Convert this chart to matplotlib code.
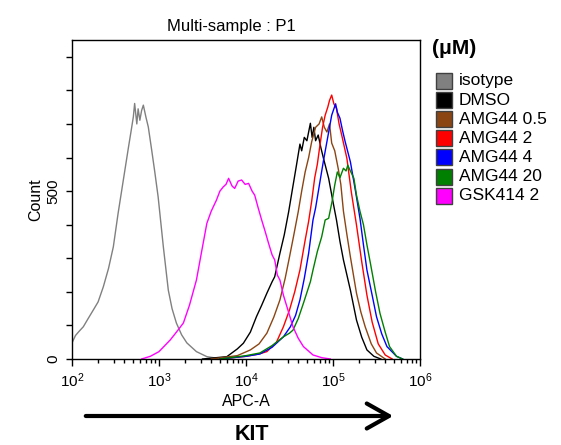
import numpy as np
import matplotlib
matplotlib.use('Agg')
import matplotlib.pyplot as plt
from matplotlib.patches import Rectangle, FancyArrowPatch
from matplotlib.ticker import FixedLocator, FixedFormatter, NullFormatter

plt.rcParams['font.family'] = ['Liberation Sans', 'DejaVu Sans']
plt.rcParams['mathtext.fontset'] = 'custom'
plt.rcParams['mathtext.rm'] = 'Liberation Sans'
plt.rcParams['mathtext.default'] = 'regular'

# histogram traces: log10(APC-A) and count
isotype_logx = [2.00, 2.04, 2.08, 2.13, 2.18, 2.245, 2.30, 2.36, 2.42, 2.475, 2.53, 2.59, 2.65, 2.68,
                2.705, 2.72, 2.745, 2.76, 2.78, 2.80, 2.82, 2.85, 2.877, 2.916, 2.95, 2.99, 3.05, 3.107,
                3.15, 3.20, 3.26, 3.32, 3.43, 3.55, 3.65, 3.75]
isotype_count = [48, 70, 82, 96, 118, 146, 170, 215, 270, 334, 434, 533, 632, 680,
                 721, 761, 700, 745, 711, 740, 756, 720, 691, 622, 560, 483, 334, 205,
                 150, 107, 72, 48, 22, 7, 3, 0]

dmso_logx = [3.50, 3.78, 3.90, 3.97, 4.05, 4.12, 4.18, 4.24, 4.30, 4.33, 4.39, 4.44, 4.49, 4.53,
             4.58, 4.62, 4.64, 4.67, 4.70, 4.74, 4.76, 4.78, 4.80, 4.83, 4.86, 4.89, 4.95, 5.00,
             5.04, 5.08, 5.12, 5.16, 5.20, 5.27, 5.33, 5.39, 5.47, 5.55]
dmso_count = [0, 7, 30, 47, 80, 126, 160, 196, 230, 245, 315, 370, 438, 500,
              577, 640, 620, 660, 650, 702, 660, 690, 650, 667, 630, 598, 538, 468,
              414, 350, 295, 250, 205, 116, 65, 27, 8, 0]

amg05_logx = [3.60, 3.90, 4.05, 4.15, 4.24, 4.32, 4.39, 4.45, 4.50, 4.55, 4.60, 4.64, 4.68, 4.72,
              4.755, 4.80, 4.84, 4.87, 4.90, 4.93, 4.96, 4.985, 5.02, 5.06, 5.09, 5.12, 5.16, 5.20,
              5.27, 5.32, 5.37, 5.44, 5.50, 5.60]
amg05_count = [0, 10, 27, 45, 77, 125, 176, 240, 304, 370, 438, 500, 557, 600,
               647, 690, 700, 721, 690, 676, 700, 643, 620, 567, 520, 440, 370, 304,
               196, 140, 96, 45, 18, 0]

amg2_logx = [3.70, 4.00, 4.15, 4.24, 4.35, 4.43, 4.50, 4.56, 4.62, 4.68, 4.72, 4.755, 4.79, 4.82,
             4.85, 4.88, 4.91, 4.94, 4.96, 4.985, 5.01, 5.04, 5.07, 5.10, 5.16, 5.21, 5.27, 5.33,
             5.39, 5.45, 5.52, 5.60, 5.68]
amg2_count = [0, 8, 15, 22, 50, 96, 146, 200, 265, 354, 410, 470, 540, 580,
              637, 690, 726, 750, 770, 786, 760, 746, 700, 667, 597, 498, 399, 290,
              190, 110, 45, 12, 0]

amg4_logx = [3.70, 4.00, 4.16, 4.30, 4.43, 4.51, 4.57, 4.62, 4.67, 4.72, 4.77, 4.80, 4.85, 4.89,
             4.93, 4.96, 4.985, 5.01, 5.03, 5.05, 5.08, 5.11, 5.14, 5.20, 5.26, 5.31, 5.35, 5.39,
             5.45, 5.50, 5.56, 5.62, 5.73, 5.80]
amg4_count = [0, 8, 15, 35, 66, 96, 130, 176, 240, 315, 414, 450, 528, 590,
              647, 690, 726, 745, 760, 735, 717, 680, 647, 587, 498, 419, 340, 265,
              190, 126, 75, 37, 8, 0]

amg20_logx = [3.70, 4.00, 4.16, 4.30, 4.43, 4.50, 4.54, 4.60, 4.66, 4.74, 4.77, 4.82, 4.87, 4.91,
              4.95, 4.99, 5.02, 5.05, 5.08, 5.12, 5.15, 5.17, 5.20, 5.24, 5.27, 5.31, 5.35, 5.39,
              5.43, 5.49, 5.54, 5.60, 5.65, 5.73, 5.80]
amg20_count = [0, 10, 18, 40, 66, 77, 86, 120, 166, 230, 265, 320, 364, 414,
               419, 470, 518, 557, 540, 568, 560, 577, 560, 538, 488, 440, 400, 340,
               285, 200, 136, 80, 37, 8, 0]

gsk_logx = [2.80, 2.90, 3.00, 3.13, 3.20, 3.28, 3.35, 3.43, 3.49, 3.55, 3.60, 3.66, 3.70, 3.74,
            3.77, 3.80, 3.84, 3.87, 3.91, 3.95, 3.99, 4.03, 4.07, 4.10, 4.14, 4.18, 4.22, 4.26,
            4.30, 4.33, 4.36, 4.39, 4.43, 4.47, 4.54, 4.60, 4.66, 4.77, 4.87, 4.97]
gsk_count = [0, 8, 22, 57, 80, 107, 160, 235, 320, 404, 440, 473, 500, 513,
             520, 538, 515, 508, 530, 533, 520, 523, 500, 488, 450, 414, 380, 344,
             310, 295, 250, 235, 190, 156, 96, 62, 37, 12, 4, 0]

labels = ['isotype', 'DMSO', 'AMG44 0.5', 'AMG44 2', 'AMG44 4', 'AMG44 20', 'GSK414 2']
colors = ['#808080', '#000000', '#8B4513', '#FF0000', '#0000FF', '#008000', '#FF00FF']
series = [(isotype_logx, isotype_count), (dmso_logx, dmso_count), (amg05_logx, amg05_count),
          (amg2_logx, amg2_count), (amg4_logx, amg4_count), (amg20_logx, amg20_count),
          (gsk_logx, gsk_count)]

fig = plt.figure(figsize=(5.61, 4.45), dpi=100)
ax = fig.add_axes([72 / 561, 1 - 359 / 445, 348 / 561, 319 / 445])

for (lx, cnt), c in zip(series, colors):
    ax.plot(10 ** np.array(lx), cnt, color=c, lw=1.0)

ax.set_xscale('log')
ax.set_xlim(1e2, 1e6)
ax.set_ylim(0, 950)

# x ticks: decades + log minors
ax.xaxis.set_major_locator(FixedLocator([1e2, 1e3, 1e4, 1e5, 1e6]))
ax.xaxis.set_major_formatter(FixedFormatter([r'$10^{2}$', r'$10^{3}$', r'$10^{4}$',
                                             r'$10^{5}$', r'$10^{6}$']))
minors = [m * 10 ** d for d in range(2, 6) for m in range(2, 10)]
ax.xaxis.set_minor_locator(FixedLocator(minors))
ax.xaxis.set_minor_formatter(NullFormatter())
ax.tick_params(axis='x', which='major', length=5, width=1, labelsize=11, pad=4)
ax.tick_params(axis='x', which='minor', length=3, width=1)

# y ticks: only 0 and 500 labelled
ax.yaxis.set_major_locator(FixedLocator([0, 500]))
ax.yaxis.set_minor_locator(FixedLocator([100, 200, 300, 400, 600, 700, 800, 900]))
ax.yaxis.set_minor_formatter(NullFormatter())
ax.tick_params(axis='y', which='both', length=4.5, width=1, labelsize=11, pad=4)
for t in ax.get_yticklabels():
    t.set_rotation(90)
    t.set_va('center')

for s in ax.spines.values():
    s.set_linewidth(1.0)

ax.set_ylabel('Count', fontsize=11.5, labelpad=2)
ax.set_xlabel('APC-A', fontsize=11.5, labelpad=3)
fig.text(231 / 561, 1 - 27 / 445, 'Multi-sample : P1', ha='center', va='center', fontsize=12)

# legend drawn by hand
fig.text(432 / 561, 1 - 48 / 445, '(\u03bcM)', ha='left', va='center', fontsize=15, fontweight='bold')
for i, (lab, c) in enumerate(zip(labels, colors)):
    yc = 81 + i * 19.1
    fig.add_artist(Rectangle((436 / 561, 1 - (yc + 8) / 445), 16 / 561, 16 / 445,
                             transform=fig.transFigure, facecolor=c, edgecolor='#404040', lw=1.0))
    fig.text(459 / 561, 1 - yc / 445, lab, ha='left', va='center', fontsize=12.5)

# KIT arrow below the axis
fig.add_artist(FancyArrowPatch((83 / 561, 1 - 416 / 445), (396 / 561, 1 - 416 / 445),
                               transform=fig.transFigure,
                               arrowstyle='->, head_length=0.8, head_width=0.45',
                               mutation_scale=20, lw=3, color='black'))
fig.text(252 / 561, 1 - 424 / 445, 'KIT', ha='center', va='top', fontsize=15.5, fontweight='bold')

fig.savefig('out.png', dpi=100)
